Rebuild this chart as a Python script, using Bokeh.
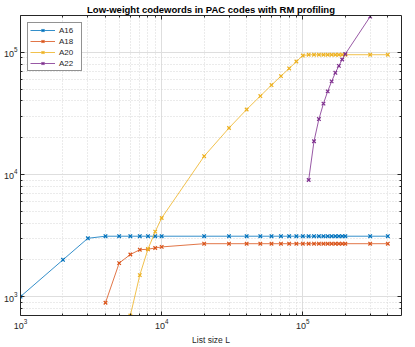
from bokeh.plotting import figure
from bokeh.models import Range1d, FixedTicker, LogAxis, CustomJSTickFormatter
from bokeh.embed import file_html
from bokeh.resources import INLINE

# ---- data ----
L_A16 = [1000, 2000, 3000, 4000, 5000, 6000, 7000, 8000, 9000, 10000,
         20000, 30000, 40000, 50000, 60000, 70000, 80000, 90000, 100000,
         110000, 120000, 130000, 140000, 150000, 160000, 170000, 180000, 190000, 200000,
         300000, 400000]
A16 = [1000, 2000, 3000, 3120, 3120, 3120, 3120, 3120, 3120, 3120,
       3120, 3120, 3120, 3120, 3120, 3120, 3120, 3120, 3120,
       3120, 3120, 3120, 3120, 3120, 3120, 3120, 3120, 3120, 3120,
       3120, 3120]

L_A18 = [4000, 5000, 6000, 7000, 8000, 9000, 10000,
         20000, 30000, 40000, 50000, 60000, 70000, 80000, 90000, 100000,
         110000, 120000, 130000, 140000, 150000, 160000, 170000, 180000, 190000, 200000,
         300000, 400000]
A18 = [890, 1880, 2210, 2420, 2440, 2500, 2550,
       2710, 2710, 2710, 2710, 2710, 2710, 2710, 2710, 2710,
       2710, 2710, 2710, 2710, 2710, 2710, 2710, 2710, 2710, 2710,
       2710, 2710]

L_A20 = [6000, 7000, 8000, 9000, 10000,
         20000, 30000, 40000, 50000, 60000, 70000, 80000, 90000, 100000,
         110000, 120000, 130000, 140000, 150000, 160000, 170000, 180000, 190000, 200000,
         300000, 400000]
A20 = [700, 1500, 2450, 3400, 4400,
       14100, 24000, 34000, 43800, 53900, 63800, 73700, 84000, 94000,
       95500, 95500, 95500, 95500, 95500, 95500, 95500, 95500, 95500, 95500,
       95500, 95500]

L_A22 = [110000, 120000, 130000, 140000, 150000, 160000, 170000, 180000, 190000, 200000,
         300000]
A22 = [9000, 18700, 28400, 38000, 47900, 57800, 67900, 77400, 87300, 96800,
       196000]

SERIES = [("A16", L_A16, A16, "#0072BD"),
          ("A18", L_A18, A18, "#D95319"),
          ("A20", L_A20, A20, "#EDB120"),
          ("A22", L_A22, A22, "#7E2F8E")]

X_MAJOR = [1e3, 1e4, 1e5]
X_MINOR = [2e3, 3e3, 4e3, 5e3, 6e3, 7e3, 8e3, 9e3,
           2e4, 3e4, 4e4, 5e4, 6e4, 7e4, 8e4, 9e4,
           2e5, 3e5, 4e5]
Y_MAJOR = [1e3, 1e4, 1e5]
Y_MINOR = [8e2, 9e2, 2e3, 3e3, 4e3, 5e3, 6e3, 7e3, 8e3, 9e3,
           2e4, 3e4, 4e4, 5e4, 6e4, 7e4, 8e4, 9e4]

TITLE = "Low-weight codewords in PAC codes with RM profiling"
XLABEL = "List size L"
FONT = "Liberation Sans"
AX_COLOR = "#262626"

p = figure(width=415, height=347, x_axis_type="log", y_axis_type="log",
           x_range=Range1d(1e3, 5e5), y_range=Range1d(700, 2e5),
           output_backend="svg", toolbar_location=None, title=TITLE)

p.title.text_font = FONT
p.title.text_font_style = "bold"
p.title.text_font_size = "9.5px"
p.title.text_color = "#000000"
p.title.align = "center"
p.title.standoff = 2

p.min_border_left = 0
p.min_border_right = 14
p.min_border_top = 0
p.min_border_bottom = 0
p.outline_line_color = None
p.background_fill_color = "white"
p.border_fill_color = "white"


def style_axis(ax, major, minor, labels=True):
    ax.ticker = FixedTicker(ticks=major, minor_ticks=minor)
    ax.major_tick_in = 4
    ax.major_tick_out = 0
    ax.minor_tick_in = 2
    ax.minor_tick_out = 0
    ax.axis_line_color = AX_COLOR
    ax.axis_line_width = 1
    ax.major_tick_line_color = AX_COLOR
    ax.minor_tick_line_color = AX_COLOR
    ax.major_label_text_font = FONT
    ax.major_label_text_font_size = "9px"
    ax.major_label_text_color = AX_COLOR
    if labels:
        ax.major_label_standoff = 3
    else:
        ax.formatter = CustomJSTickFormatter(code="return ''")
        ax.major_label_standoff = 0
        ax.major_label_text_font_size = "0px"


style_axis(p.xaxis[0], X_MAJOR, X_MINOR)
style_axis(p.yaxis[0], Y_MAJOR, Y_MINOR)
p.xaxis.axis_label = XLABEL
p.xaxis.axis_label_text_font = FONT
p.xaxis.axis_label_text_font_size = "8.5px"
p.xaxis.axis_label_text_font_style = "normal"
p.xaxis.axis_label_text_color = AX_COLOR
p.xaxis.axis_label_standoff = 3

top_ax = LogAxis()
style_axis(top_ax, X_MAJOR, X_MINOR, labels=False)
p.add_layout(top_ax, "above")
right_ax = LogAxis()
style_axis(right_ax, Y_MAJOR, Y_MINOR, labels=False)
p.add_layout(right_ax, "right")

for g in (p.xgrid, p.ygrid):
    g.grid_line_color = "#dedede"
    g.grid_line_width = 1
    g.minor_grid_line_color = "#d6d6d6"
    g.minor_grid_line_dash = "1 2"
    g.minor_grid_line_width = 1

for name, xs, ys, color in SERIES:
    p.line(xs, ys, line_color=color, line_width=0.8, legend_label=name)
    p.scatter(xs, ys, marker="x", size=5, line_color=color, line_width=1.2,
              legend_label=name)

lg = p.legend[0]
lg.location = "top_left"
lg.margin = 7
lg.padding = 2
lg.spacing = 1
lg.glyph_width = 25
lg.glyph_height = 10
lg.label_height = 10
lg.label_standoff = 4
lg.label_text_font = FONT
lg.label_text_font_size = "8px"
lg.label_text_color = AX_COLOR
lg.border_line_color = AX_COLOR
lg.border_line_width = 1
lg.background_fill_color = "white"
lg.background_fill_alpha = 1

open("out.html", "w").write(file_html(p, INLINE))
